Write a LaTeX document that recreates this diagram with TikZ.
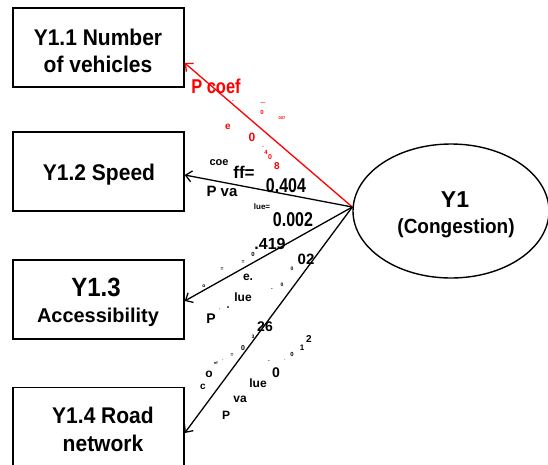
\documentclass[tikz,border=0pt]{standalone}
\usepackage{fontspec}
\setmainfont{Liberation Sans}
\usetikzlibrary{shapes.geometric,arrows.meta}
\tikzset{
  box/.style={draw, line width=1.4pt, minimum width=171pt, minimum height=79pt, inner sep=0pt},
  bt/.style={inner sep=0pt, font=\bfseries\fontsize{#1}{#1}\selectfont},
  bt/.default=21,
  lv/.style={draw, ellipse, line width=1.4pt, minimum width=196pt, minimum height=134pt, inner sep=0pt},
  con/.style={line width=1.3pt, -{Straight Barb[length=6pt,width=11pt,line width=1.3pt]}},
  lb/.style={inner sep=0pt, font=\bfseries\fontsize{#1}{#1}\selectfont},
  lb/.default=12
}
\begin{document}
\begin{tikzpicture}[x=1pt,y=-1pt]
\useasboundingbox (0,0) rectangle (548,464);
\node[box] (b1) at (98.5,47.5) {};
\node[box] (b2) at (98.5,171.5) {};
\node[box] (b3) at (98.5,299.5) {};
\node[box] (b4) at (98.5,427) {};
\node[bt] (t1a) at (98,37) {\scalebox{1}[1.08]{Y1.1 Number}};
\node[bt] (t1b) at (98,64) {\scalebox{1}[1.08]{of vehicles}};
\node[bt] (t2) at (99,175) {\scalebox{1}[1.08]{Y1.2 Speed}};
\node[bt=24] (t3a) at (96,287) {\scalebox{1}[1.1]{Y1.3}};
\node[bt=19] (t3b) at (98,317) {\scalebox{1.05}[1.05]{Accessibility}};
\node[bt] (t4a) at (103,415) {\scalebox{1}[1.08]{Y1.4 Road}};
\node[bt] (t4b) at (103,443) {\scalebox{1}[1.08]{network}};
\node[lv] (y1) at (451,211) {};
\node[lb=23] (y1a) at (455,200) {Y1};
\node[lb=19] (y1b) at (456,228) {\scalebox{1}[1.08]{(Congestion)}};
\coordinate (o) at ([yshift=4pt]y1.west);
\coordinate (a1) at ([yshift=-15.5pt]b1.east);
\coordinate (a2) at ([yshift=-3.5pt]b2.east);
\coordinate (a3) at ([yshift=-1.5pt]b3.east);
\coordinate (a4) at ([yshift=-6pt]b4.east);
\draw[con, red] (o) -- (a1);
\draw[con] (o) -- (a2);
\draw[con] (o) -- (a3);
\draw[con] (o) -- (a4);
% red label fragments
\begin{scope}[red]
\node[lb=20] (r1) at (216,86) {\scalebox{0.82}[1]{P coef}};
\node[lb=5] (r2) at (233,102) {-};
\node[lb=5] (r3) at (263,104) {---};
\node[lb=6] (r4) at (262,112) {0};
\node[lb=4] (r5) at (282,118) {007};
\node[lb=10] (r6) at (228,127) {e};
\node[lb=12] (r7) at (252,137) {0};
\node[lb=5] (r8) at (263,148) {-};
\node[lb=6] (r9) at (266,152) {4};
\node[lb=7] (r10) at (270,157) {0};
\node[lb=10] (r11) at (277,166) {8};
\end{scope}
% speed
\node[lb=11] (s1) at (219,163) {coe};
\node[lb=17] (s2) at (244,172) {ff=};
\node[lb=20] (s3) at (286,186) {\scalebox{0.8}[1]{0.404}};
\node[lb=15] (s4) at (222,191) {P va};
\node[lb=8] (s5) at (262,207) {lue=};
\node[lb=20] (s6) at (293,220) {\scalebox{0.8}[1]{0.002}};
% accessibility
\node[lb=16] (c1) at (270,244) {.419};
\node[lb=6] (c2) at (253,254) {0};
\node[lb=5] (c3) at (243,262) {=};
\node[lb=5] (c4) at (222,269) {=};
\node[lb=5] (c5) at (204,286) {o};
\node[lb=15] (c6) at (306,259) {02};
\node[lb=5] (c7) at (292,269) {0};
\node[lb=12] (c8) at (248,277) {e.};
\node[lb=5] (c9) at (282,285) {0};
\node[lb=5] (c10) at (272,290) {-};
\node[lb=12] (c11) at (243,297) {lue};
\node[lb=4] (c12) at (220,310) {'};
\node[lb=4] (c13) at (228,307) {a};
\node[lb=14] (c14) at (211,319) {P};
% road network
\node[lb=14] (d1) at (265,327) {26};
\node[lb=10] (d2) at (309,339) {2};
\node[lb=8] (d3) at (302,348) {1};
\node[lb=6] (d4) at (292,354) {0};
\node[lb=4] (d5) at (285,360) {.};
\node[lb=5] (d6) at (253,337) {3};
\node[lb=7] (d7) at (243,348) {0};
\node[lb=5] (d8) at (232,355) {=};
\node[lb=4] (d9) at (223,360) {.};
\node[lb=4] (d10) at (216,363) {ef};
\node[lb=12] (d11) at (209,374) {o};
\node[lb=10] (d12) at (203,387) {c};
\node[lb=5] (d13) at (269,362) {-};
\node[lb=14] (d14) at (276,373) {0};
\node[lb=12] (d15) at (258,383) {lue};
\node[lb=12] (d16) at (240,399) {va};
\node[lb=12] (d17) at (226,415) {P};
\end{tikzpicture}
\end{document}
